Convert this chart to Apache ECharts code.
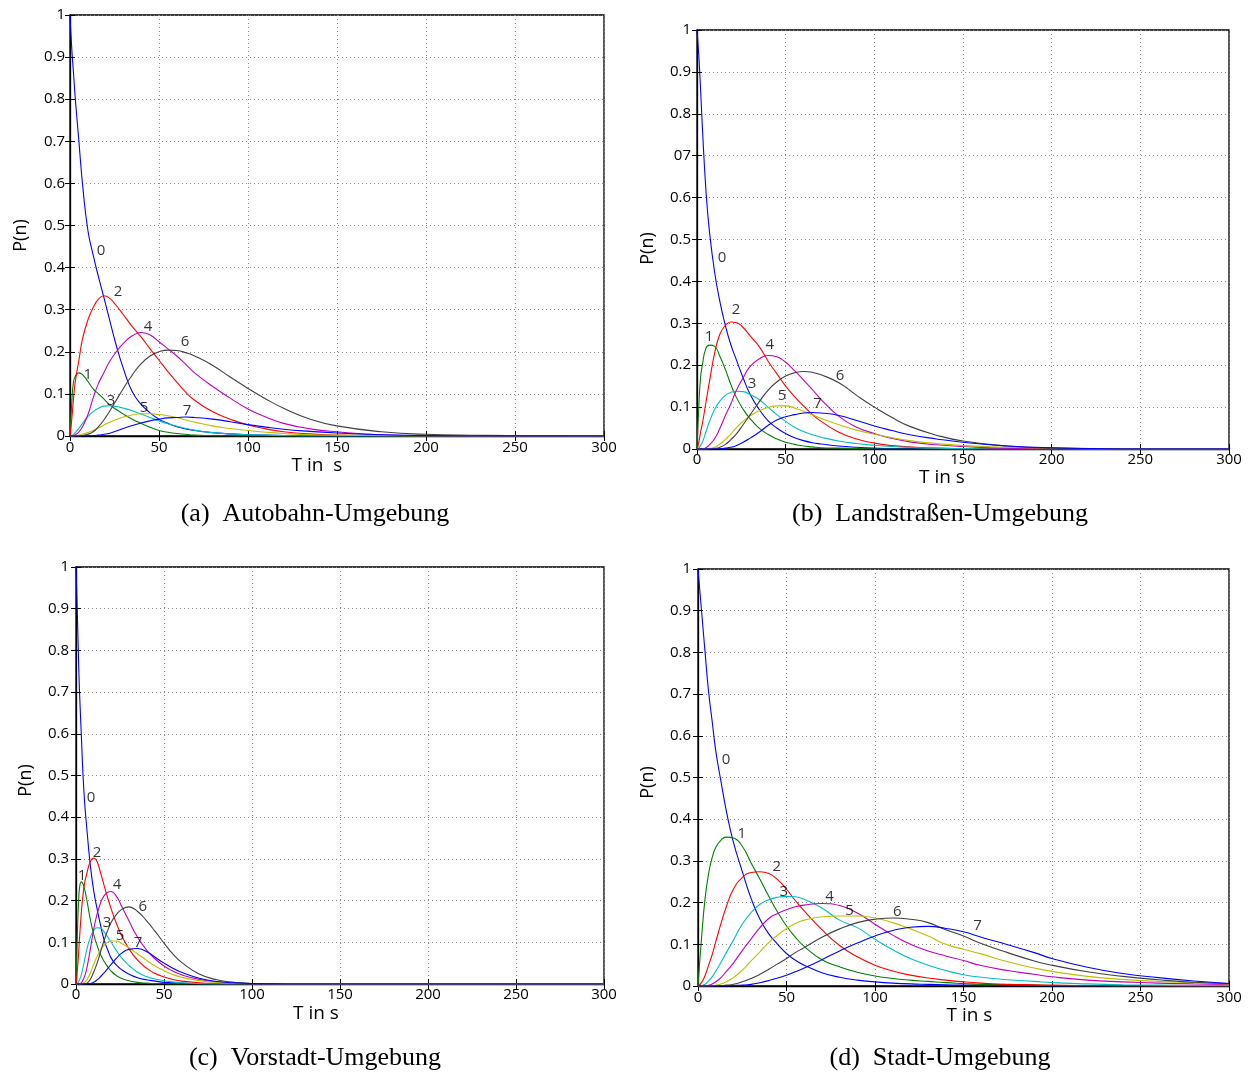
<!DOCTYPE html>
<html>
<head>
<meta charset="utf-8">
<script src="https://cdn.jsdelivr.net/npm/echarts@6/dist/echarts.min.js"></script>
<style>
html,body{margin:0;padding:0;background:#fff;}
#chart{width:1250px;height:1072px;}
</style>
</head>
<body>
<div id="chart"></div>
<script>
// ---------- DATA ----------
const xTicks = ['0','50','100','150','200','250','300'];
const yTicksStd = ['0','0.1','0.2','0.3','0.4','0.5','0.6','0.7','0.8','0.9','1'];
const yTicksB = ['0','0.1','0.2','0.3','0.4','0.5','0.6','07','0.8','0.9','1'];
const curveNames = ['0','1','2','3','4','5','6','7'];

// (a) Autobahn
const tA = [0,1,2,3,5,7,10,13,16,19,22,26,30,35,40,45,50,55,60,65,70,80,90,100,110,120,135,150,175,200,250,300];
const pA = [
  [1.0,0.92,0.86,0.80,0.70,0.60,0.49,0.43,0.378,0.33,0.28,0.215,0.16,0.105,0.075,0.055,0.04,0.03,0.022,0.017,0.013,0.008,0.005,0.003,0.002,0.001,0,0,0,0,0,0],
  [0,0.08,0.13,0.142,0.15,0.146,0.13,0.112,0.1,0.088,0.075,0.063,0.052,0.04,0.03,0.021,0.013,0.009,0.006,0.004,0.002,0.001,0,0,0,0,0,0,0,0,0,0],
  [0,0.04,0.09,0.13,0.18,0.23,0.275,0.305,0.325,0.333,0.328,0.31,0.288,0.26,0.235,0.207,0.18,0.153,0.128,0.104,0.085,0.058,0.04,0.026,0.017,0.01,0.005,0.002,0.001,0,0,0],
  [0,0.001,0.004,0.008,0.018,0.03,0.046,0.058,0.066,0.071,0.072,0.07,0.066,0.06,0.052,0.044,0.036,0.029,0.023,0.018,0.014,0.008,0.005,0.003,0.002,0.001,0,0,0,0,0,0],
  [0,0,0.001,0.003,0.01,0.022,0.05,0.09,0.125,0.15,0.175,0.2,0.22,0.238,0.246,0.24,0.224,0.207,0.19,0.17,0.15,0.118,0.09,0.064,0.045,0.03,0.017,0.01,0.003,0.001,0,0],
  [0,0,0,0.001,0.002,0.004,0.008,0.013,0.019,0.026,0.032,0.039,0.045,0.05,0.053,0.053,0.051,0.048,0.044,0.038,0.033,0.024,0.018,0.013,0.009,0.006,0.003,0.002,0.001,0,0,0],
  [0,0,0,0,0,0.001,0.004,0.01,0.022,0.038,0.057,0.085,0.113,0.145,0.172,0.19,0.2,0.204,0.203,0.198,0.19,0.168,0.14,0.113,0.088,0.066,0.04,0.024,0.01,0.004,0.001,0],
  [0,0,0,0,0,0,0,0.001,0.002,0.004,0.006,0.012,0.018,0.025,0.031,0.036,0.04,0.043,0.044,0.045,0.044,0.04,0.034,0.027,0.021,0.016,0.011,0.007,0.003,0.001,0,0]
];
const labA = [[17.4,0.44,'0'],[10,0.145,'1'],[27,0.343,'2'],[23,0.083,'3'],[43.8,0.26,'4'],[41.6,0.067,'5'],[64.6,0.224,'6'],[65.7,0.06,'7']];

// (b) Landstrassen
const tB = [0,1,2,3,5,7,10,13,16,19,22,26,30,35,40,45,50,55,60,65,70,80,90,100,110,120,135,150,175,200,250,300];
const pB = [
  [1,0.94,0.86,0.77,0.62,0.52,0.42,0.35,0.295,0.25,0.215,0.17,0.13,0.095,0.068,0.05,0.037,0.027,0.02,0.015,0.012,0.007,0.004,0.002,0.001,0.001,0,0,0,0,0,0],
  [0,0.1,0.17,0.2,0.24,0.248,0.245,0.22,0.19,0.155,0.125,0.095,0.072,0.05,0.035,0.024,0.016,0.011,0.007,0.005,0.003,0.002,0.001,0,0,0,0,0,0,0,0,0],
  [0,0.015,0.04,0.06,0.11,0.16,0.23,0.275,0.295,0.303,0.302,0.29,0.27,0.245,0.21,0.18,0.15,0.125,0.103,0.083,0.066,0.04,0.024,0.014,0.008,0.005,0.002,0.001,0,0,0,0],
  [0,0.002,0.008,0.016,0.04,0.065,0.095,0.115,0.128,0.135,0.138,0.137,0.13,0.118,0.1,0.082,0.066,0.052,0.042,0.034,0.028,0.019,0.013,0.009,0.006,0.004,0.002,0.001,0,0,0,0],
  [0,0,0,0,0.003,0.01,0.025,0.05,0.08,0.107,0.138,0.17,0.197,0.215,0.223,0.22,0.207,0.187,0.165,0.142,0.118,0.078,0.052,0.037,0.025,0.017,0.01,0.006,0.002,0.001,0,0],
  [0,0,0,0,0,0.001,0.004,0.012,0.023,0.035,0.05,0.066,0.079,0.091,0.099,0.103,0.103,0.098,0.09,0.082,0.073,0.058,0.045,0.035,0.027,0.02,0.013,0.008,0.004,0.002,0,0],
  [0,0,0,0,0,0,0.001,0.004,0.011,0.022,0.035,0.058,0.082,0.112,0.14,0.16,0.174,0.182,0.185,0.183,0.177,0.158,0.128,0.1,0.075,0.054,0.033,0.019,0.007,0.002,0,0],
  [0,0,0,0,0,0,0,0,0.002,0.004,0.008,0.016,0.026,0.04,0.056,0.069,0.077,0.082,0.086,0.087,0.086,0.08,0.068,0.055,0.044,0.034,0.024,0.016,0.007,0.003,0,0]
];
const labB = [[14.1,0.456,'0'],[6.8,0.267,'1'],[22,0.332,'2'],[31,0.155,'3'],[41,0.248,'4'],[48,0.126,'5'],[80.6,0.174,'6'],[68,0.107,'7']];

// (c) Vorstadt
const tC = [0,0.5,1,1.5,2,3,4,5,6,8,10,12,14,16,18,20,23,26,30,35,40,45,50,55,60,70,80,90,100,120,150,200,300];
const pC = [
  [1,0.93,0.85,0.77,0.7,0.6,0.5,0.43,0.38,0.29,0.225,0.18,0.14,0.105,0.082,0.062,0.045,0.034,0.024,0.015,0.01,0.007,0.004,0.003,0.002,0.001,0,0,0,0,0,0,0],
  [0,0.08,0.15,0.2,0.23,0.245,0.24,0.225,0.205,0.158,0.12,0.092,0.07,0.054,0.041,0.031,0.02,0.013,0.008,0.004,0.002,0.001,0,0,0,0,0,0,0,0,0,0,0],
  [0,0.02,0.045,0.075,0.11,0.17,0.215,0.245,0.262,0.292,0.302,0.293,0.266,0.236,0.207,0.18,0.145,0.115,0.085,0.057,0.038,0.025,0.017,0.011,0.007,0.003,0.001,0,0,0,0,0,0],
  [0,0,0.002,0.005,0.01,0.022,0.04,0.06,0.08,0.11,0.128,0.135,0.134,0.125,0.113,0.1,0.08,0.062,0.045,0.028,0.018,0.012,0.008,0.005,0.003,0.001,0,0,0,0,0,0,0],
  [0,0,0,0,0,0.003,0.01,0.02,0.035,0.08,0.13,0.168,0.195,0.212,0.22,0.222,0.21,0.186,0.152,0.112,0.082,0.06,0.043,0.031,0.022,0.011,0.005,0.002,0.001,0,0,0,0],
  [0,0,0,0,0,0,0.002,0.004,0.009,0.025,0.047,0.066,0.082,0.093,0.1,0.103,0.103,0.097,0.087,0.072,0.057,0.043,0.032,0.023,0.016,0.008,0.004,0.002,0.001,0,0,0,0],
  [0,0,0,0,0,0,0,0,0.001,0.01,0.028,0.05,0.078,0.105,0.128,0.148,0.167,0.179,0.185,0.174,0.152,0.126,0.098,0.072,0.052,0.024,0.01,0.004,0.001,0,0,0,0],
  [0,0,0,0,0,0,0,0,0,0.001,0.004,0.01,0.018,0.027,0.037,0.047,0.062,0.074,0.083,0.085,0.078,0.064,0.05,0.038,0.028,0.014,0.006,0.003,0.001,0,0,0,0]
];
const labC = [[8.5,0.446,'0'],[3.4,0.259,'1'],[12,0.314,'2'],[17.6,0.146,'3'],[23.3,0.237,'4'],[25,0.115,'5'],[38,0.185,'6'],[35.2,0.1,'7']];

// (d) Stadt
const tD = [0,2,4,6,8,10,13,16,20,25,30,35,40,45,50,55,60,70,80,90,100,110,120,130,140,150,160,175,190,200,220,240,260,280,300];
const pD = [
  [1,0.9,0.8,0.705,0.635,0.565,0.49,0.42,0.345,0.275,0.21,0.16,0.125,0.1,0.078,0.062,0.05,0.032,0.021,0.014,0.01,0.007,0.005,0.004,0.003,0.002,0.002,0.001,0.001,0,0,0,0,0,0],
  [0,0.115,0.21,0.27,0.308,0.332,0.35,0.357,0.355,0.335,0.295,0.256,0.215,0.177,0.144,0.117,0.095,0.063,0.046,0.033,0.024,0.018,0.014,0.011,0.008,0.006,0.004,0.003,0.002,0.001,0.001,0,0,0,0],
  [0,0.008,0.025,0.05,0.075,0.105,0.15,0.19,0.232,0.26,0.272,0.274,0.27,0.255,0.232,0.205,0.18,0.135,0.097,0.07,0.05,0.036,0.026,0.019,0.014,0.01,0.007,0.004,0.003,0.002,0.001,0.001,0,0,0],
  [0,0.001,0.004,0.012,0.022,0.035,0.057,0.08,0.11,0.148,0.176,0.196,0.207,0.213,0.215,0.214,0.208,0.187,0.158,0.14,0.112,0.087,0.066,0.05,0.037,0.027,0.021,0.015,0.011,0.008,0.005,0.003,0.002,0.001,0.001],
  [0,0,0.001,0.002,0.005,0.01,0.02,0.035,0.055,0.085,0.113,0.14,0.162,0.174,0.183,0.19,0.194,0.198,0.193,0.175,0.148,0.122,0.1,0.084,0.072,0.061,0.049,0.037,0.028,0.022,0.014,0.01,0.007,0.005,0.004],
  [0,0,0,0,0.001,0.002,0.005,0.01,0.02,0.038,0.06,0.082,0.104,0.122,0.138,0.15,0.158,0.166,0.168,0.168,0.163,0.152,0.137,0.12,0.1,0.088,0.077,0.058,0.043,0.035,0.023,0.016,0.011,0.008,0.005],
  [0,0,0,0,0,0,0.001,0.002,0.004,0.01,0.018,0.028,0.04,0.053,0.066,0.08,0.092,0.117,0.137,0.152,0.16,0.163,0.16,0.152,0.135,0.12,0.102,0.08,0.06,0.05,0.034,0.023,0.015,0.009,0.006],
  [0,0,0,0,0,0,0,0,0.001,0.002,0.004,0.008,0.013,0.019,0.026,0.034,0.043,0.063,0.084,0.103,0.12,0.133,0.141,0.143,0.138,0.13,0.117,0.099,0.08,0.066,0.045,0.03,0.02,0.012,0.006]
];
const labD = [[15.8,0.542,'0'],[24.8,0.365,'1'],[44.5,0.285,'2'],[48.4,0.225,'3'],[74.3,0.213,'4'],[85.6,0.18,'5'],[112.6,0.177,'6'],[158,0.144,'7']];

const captions = ['(a)  Autobahn-Umgebung','(b)  Landstraßen-Umgebung','(c)  Vorstadt-Umgebung','(d)  Stadt-Umgebung'];
const xNames = ['T in  s','T in s','T in s','T in s'];

// ---------- STYLE / LAYOUT ----------
const colors = ['#0000ff','#008000','#ff0000','#00bfbf','#bf00bf','#bfbf00','#404040','#0000ff'];
const FONT = "'Open Sans', 'DejaVu Sans', sans-serif";
const panels = [
  {t:tA, p:pA, lab:labA, yt:yTicksStd, grid:{left:70, top:15, width:534, height:421}, xGap:11, xPad:[0,40,0,0], yGap:40, yPad:[0,20,0,0], xlm:4, ylm:5, cap:[315,514]},
  {t:tB, p:pB, lab:labB, yt:yTicksB,   grid:{left:697, top:30, width:532, height:419}, xGap:10, xPad:[0,42,0,0], yGap:40, yPad:[0,18,0,0], xlm:3, ylm:6, cap:[940,514]},
  {t:tC, p:pC, lab:labC, yt:yTicksStd, grid:{left:76, top:567, width:528, height:417}, xGap:20, xPad:[0,48,0,0], yGap:41, yPad:[0,10,0,0], xlm:3, ylm:7, cap:[315,1058]},
  {t:tD, p:pD, lab:labD, yt:yTicksStd, grid:{left:698, top:569, width:531, height:417}, xGap:19, xPad:[0,0,0,12], yGap:41, yPad:[0,10,0,0], xlm:4, ylm:7, cap:[940,1058]}
];

const grids = [], xAxes = [], yAxes = [], series = [], graphics = [];
panels.forEach((P, gi) => {
  grids.push(Object.assign({show:true, borderColor:'#000', borderWidth:1.3, backgroundColor:'#fff'}, P.grid));
  const lbl = {color:'#000', fontSize:15, fontFamily:FONT};
  xAxes.push({
    type:'value', gridIndex:gi, min:0, max:300, interval:50, position:'bottom',
    name:xNames[gi], nameLocation:'middle', nameGap:P.xGap,
    nameTextStyle:{color:'#000', fontSize:19, fontFamily:FONT, padding:P.xPad},
    axisLine:{show:true, onZero:false, lineStyle:{color:'#000', width:1.3}},
    axisTick:{show:true, inside:true, length:5, lineStyle:{color:'#000'}},
    axisLabel:Object.assign({margin:P.xlm, formatter:(v)=>xTicks[Math.round(v/50)]}, lbl),
    splitLine:{show:true, lineStyle:{color:'#888', type:[1,3], width:1}}
  });
  xAxes.push({
    type:'value', gridIndex:gi, min:0, max:300, interval:50, position:'top',
    axisLine:{show:false}, axisTick:{show:true, inside:true, length:5, lineStyle:{color:'#000'}},
    axisLabel:{show:false}, splitLine:{show:false}
  });
  yAxes.push({
    type:'value', gridIndex:gi, min:0, max:1, interval:0.1, position:'left',
    name:'P(n)', nameLocation:'middle', nameGap:P.yGap,
    nameTextStyle:{color:'#000', fontSize:18, fontFamily:FONT, padding:P.yPad},
    axisLine:{show:true, onZero:false, lineStyle:{color:'#000', width:1.3}},
    axisTick:{show:true, inside:true, length:5, lineStyle:{color:'#000'}},
    axisLabel:Object.assign({margin:P.ylm, formatter:(v)=>P.yt[Math.round(v*10)]}, lbl),
    splitLine:{show:true, lineStyle:{color:'#888', type:[1,3], width:1}}
  });
  yAxes.push({
    type:'value', gridIndex:gi, min:0, max:1, interval:0.1, position:'right',
    axisLine:{show:false}, axisTick:{show:true, inside:true, length:5, lineStyle:{color:'#000'}},
    axisLabel:{show:false}, splitLine:{show:false}
  });
  const xi = gi*2, yi = gi*2;
  P.p.forEach((vals, ci) => {
    series.push({
      type:'line', name:curveNames[ci], xAxisIndex:xi, yAxisIndex:yi,
      data:P.t.map((t,k)=>[t, vals[k]]),
      showSymbol:false, smooth:0.5, clip:true,
      lineStyle:{color:colors[ci], width:1.1}, itemStyle:{color:colors[ci]},
      silent:true, animation:false, z:2+ci*0.01
    });
  });
  series.push({
    type:'scatter', xAxisIndex:xi, yAxisIndex:yi, symbolSize:0, silent:true, animation:false, z:5,
    data:P.lab.map(l=>({value:[l[0], l[1]], name:l[2]})),
    label:{show:true, position:'inside', formatter:(d)=>d.name, color:'#000', fontSize:15, fontFamily:FONT}
  });
  graphics.push({
    type:'text', x:P.cap[0], y:P.cap[1], silent:true,
    style:{text:captions[gi], fill:'#000', font:"26px 'Liberation Serif', 'Times New Roman', serif", textAlign:'center', textVerticalAlign:'middle'}
  });
});

const chart = echarts.init(document.getElementById('chart'), null, {renderer:'canvas'});
chart.setOption({
  animation:false,
  backgroundColor:'#fff',
  grid:grids, xAxis:xAxes, yAxis:yAxes, series:series,
  graphic: graphics
});
</script>
</body>
</html>
